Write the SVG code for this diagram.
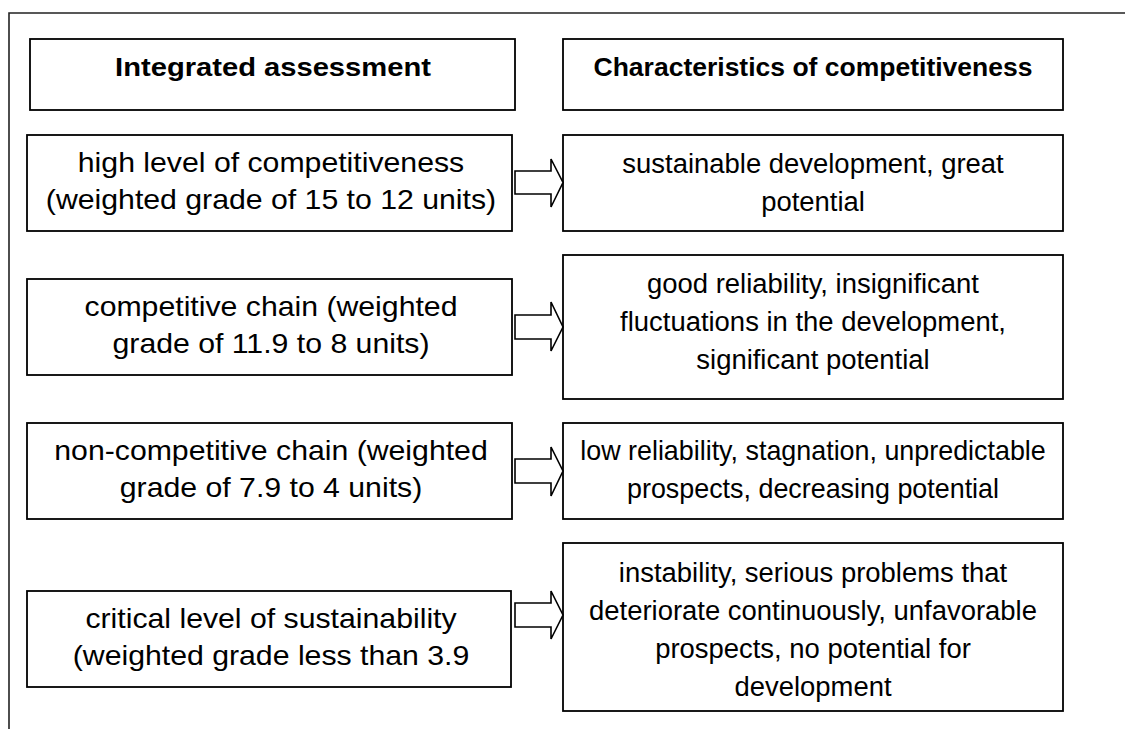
<svg xmlns="http://www.w3.org/2000/svg" width="1125" height="729" viewBox="0 0 1125 729">
<style>
.box{fill:#fff;stroke:#000;stroke-width:1.8}
.frame{fill:none;stroke:#222;stroke-width:1.6}
.arr{fill:#fff;stroke:#000;stroke-width:1.6;stroke-linejoin:miter}
.t{font-family:"Liberation Sans",Arial,sans-serif;font-size:28px;fill:#000;text-anchor:middle}
.h{font-family:"Liberation Sans",Arial,sans-serif;font-size:26.5px;font-weight:bold;fill:#000;text-anchor:middle}
</style>
<rect width="1125" height="729" fill="#fff"/>
<path class="frame" d="M9,729 V13 H1125"/>
<g id="header-left"><rect class="box" x="30" y="39" width="485" height="71"/><g transform="translate(273 0) scale(1.1 1)"><text class="h" x="0" y="76">Integrated assessment</text></g></g>
<g id="header-right"><rect class="box" x="563" y="39" width="500" height="71"/><text class="h" x="813" y="76">Characteristics of competitiveness</text></g>
<g id="left1"><rect class="box" x="27" y="135" width="485" height="96"/><g transform="translate(271 0) scale(1.08 1)"><text class="t" x="0" y="172.5">high level of competitiveness</text><text class="t" x="0" y="209">(weighted grade of 15 to 12 units)</text></g></g>
<g id="right1"><rect class="box" x="563" y="135" width="500" height="96"/><g transform="translate(813 0) scale(0.98 1)"><text class="t" x="0" y="173">sustainable development, great</text><text class="t" x="0" y="211">potential</text></g></g>
<g id="left2"><rect class="box" x="27" y="279" width="485" height="96"/><g transform="translate(271 0) scale(1.08 1)"><text class="t" x="0" y="316.5">competitive chain (weighted</text><text class="t" x="0" y="353">grade of 11.9 to 8 units)</text></g></g>
<g id="right2"><rect class="box" x="563" y="255" width="500" height="144"/><g transform="translate(813 0) scale(0.98 1)"><text class="t" x="0" y="293">good reliability, insignificant</text><text class="t" x="0" y="331">fluctuations in the development,</text><text class="t" x="0" y="369">significant potential</text></g></g>
<g id="left3"><rect class="box" x="27" y="423" width="485" height="96"/><g transform="translate(271 0) scale(1.08 1)"><text class="t" x="0" y="460.5">non-competitive chain (weighted</text><text class="t" x="0" y="497">grade of 7.9 to 4 units)</text></g></g>
<g id="right3"><rect class="box" x="563" y="423" width="500" height="96"/><g transform="translate(813 0) scale(0.96 1)"><text class="t" x="0" y="460">low reliability, stagnation, unpredictable</text><text class="t" x="0" y="498">prospects, decreasing potential</text></g></g>
<g id="left4"><rect class="box" x="27" y="591" width="484" height="96"/><g transform="translate(271 0) scale(1.08 1)"><text class="t" x="0" y="628.5">critical level of sustainability</text><text class="t" x="0" y="665">(weighted grade less than 3.9</text></g></g>
<g id="right4"><rect class="box" x="563" y="543" width="500" height="168"/><g transform="translate(813 0) scale(0.98 1)"><text class="t" x="0" y="582">instability, serious problems that</text><text class="t" x="0" y="620">deteriorate continuously, unfavorable</text><text class="t" x="0" y="658">prospects, no potential for</text><text class="t" x="0" y="696">development</text></g></g>
<g id="connectors">
<polygon class="arr" points="515,171 551,171 551,159 563,182.5 551,207 551,194 515,194"/>
<polygon class="arr" points="515,315 551,315 551,302 563,327 551,351 551,339 515,339"/>
<polygon class="arr" points="515,459 551,459 551,447 563,471 551,496 551,483 515,483"/>
<polygon class="arr" points="515,603 551,603 551,591 563,615 551,639 551,627 515,627"/>
</g>
</svg>
